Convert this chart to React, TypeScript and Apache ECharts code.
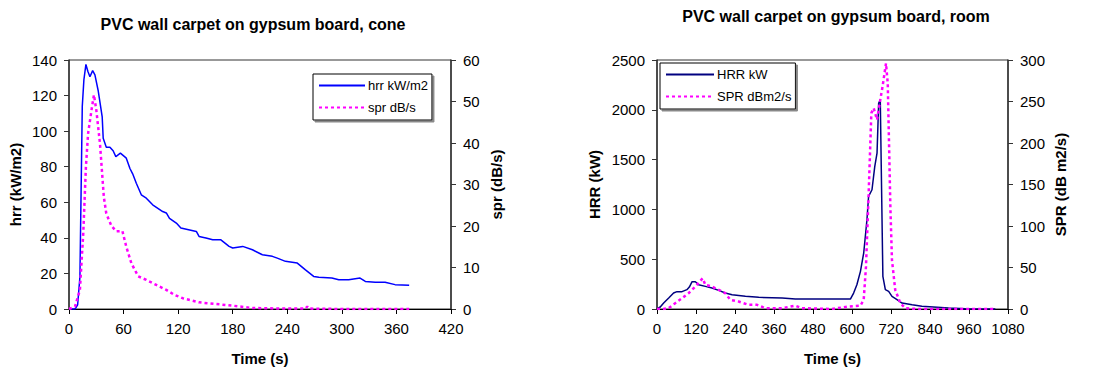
import React, { useEffect, useRef } from "react";
import * as echarts from "echarts";

// ---- Cone test (left) ----
const coneHrrTime = [0, 6.6, 9.5, 12, 14.6, 16.4, 18.6, 20.8, 23, 26, 28.5, 32, 36.5, 37.6, 41, 45, 48.5, 51.5, 56.5, 63, 67, 70, 74, 79.5, 85, 92, 103, 107, 110.5, 118, 123, 140, 143, 150.6, 158, 167, 176, 180, 191, 201.7, 212.6, 223.6, 229, 238, 251, 260, 269, 274.7, 289, 296.6, 307.5, 320, 325.8, 336.7, 347.5, 358.5, 374];
const coneHrr = [0, 0, 2.4, 18, 114, 129, 137.5, 133.5, 130.6, 134, 131.6, 123, 108, 96, 91, 91, 89, 85.7, 87.6, 84.8, 79, 76, 70.7, 64.2, 62.3, 58.6, 54.8, 54, 51, 48.3, 45.5, 43.6, 40.8, 39.9, 38.9, 38.9, 35.2, 34.3, 35.2, 33.3, 30.5, 29.6, 28.6, 26.8, 25.8, 22, 18.3, 17.8, 17.4, 16.5, 16.5, 17.4, 15.5, 15, 15, 13.7, 13.3];
const coneSprTime = [0, 6.6, 12, 15.7, 18.6, 21, 24.8, 27.4, 30, 34, 38.3, 41, 46.7, 52, 58.7, 63, 68.6, 76, 85, 96, 107, 116, 125, 143, 161.6, 180, 201.7, 234.5, 260, 262, 264, 300, 340, 374];
const coneSpr = [0, 0.6, 4.6, 18.3, 34.3, 42.3, 48, 51.6, 48, 40, 27, 23, 20, 18.7, 18.8, 15, 11, 7.9, 7, 5.8, 4.6, 3.4, 2.6, 1.6, 1.2, 0.8, 0.24, 0.1, 0.1, 0.6, 0.1, 0, 0, 0];

// ---- Room test (right) ----
const roomHrrTime = [0, 10, 20.5, 36, 51, 61.5, 77, 92, 99.5, 108, 118, 128, 149, 169, 190, 210, 231, 272, 313, 385, 425.6, 487, 538, 595, 605, 615, 626, 636, 646, 651, 661.5, 670, 677, 682, 687, 690, 695, 702.6, 712.8, 723, 738.5, 754, 785, 815, 897, 949, 1041];
const roomHrr = [0, 20, 60, 110, 160, 174, 174, 194, 220, 274, 274, 244, 227, 210, 187, 160, 144, 127, 117, 110, 100, 100, 100, 100, 160, 244, 378, 562, 896, 1130, 1197, 1430, 1564, 2065, 2100, 1430, 328, 194, 177, 127, 94, 60, 43, 27, 10, 3, 0];
const roomSprTime = [0, 20, 36, 56, 77, 97, 118, 140.5, 149, 169, 190, 210, 226, 251, 282, 308, 333, 385, 425.6, 446, 538, 590, 626, 636, 643, 651, 659.5, 666.7, 677, 687, 694, 704.6, 710, 715, 718, 723, 733, 749, 764, 800, 900, 1041];
const roomSpr = [0, 0, 1, 7, 13, 19, 27, 37, 29, 27, 23, 19, 11, 9, 5, 5, 1, 1, 4, 1, 0, 3, 4, 11, 51, 136, 236, 242, 228, 252, 268, 296, 272, 180, 124, 59, 23, 7, 1, 0, 0, 0];

const coneTicksX = { min: 0, max: 420, interval: 60 };
const coneTicksY = { min: 0, max: 140, interval: 20 };
const coneTicksY2 = { min: 0, max: 60, interval: 10 };
const roomTicksX = { min: 0, max: 1080, interval: 120 };
const roomTicksY = { min: 0, max: 2500, interval: 500 };
const roomTicksY2 = { min: 0, max: 300, interval: 50 };

const zip = (a: number[], b: number[]) => a.map((v, i) => [v, b[i]]);

const FONT = "Liberation Sans";
const axisColor = "#333";
const plain = (v: number) => String(v);

function makeX(gridIndex: number, t: any) {
  return {
    type: "value",
    gridIndex,
    ...t,
    name: "Time (s)",
    nameLocation: "middle",
    nameGap: 42,
    nameTextStyle: { fontFamily: FONT, fontSize: 15, fontWeight: "bold", color: "#000" },
    axisLine: { show: true, lineStyle: { color: "#000", width: 1 } },
    axisTick: { show: true, length: 5, lineStyle: { color: "#000" } },
    axisLabel: { fontFamily: FONT, fontSize: 15, color: "#000", margin: 12, formatter: plain },
    splitLine: { show: false },
  };
}

function makeY(gridIndex: number, t: any, name: string, position: string, gap: number) {
  return {
    type: "value",
    gridIndex,
    position,
    ...t,
    name,
    nameLocation: "middle",
    nameGap: gap,
    nameTextStyle: { fontFamily: FONT, fontSize: 15, fontWeight: "bold", color: "#000" },
    axisLine: { show: true, lineStyle: { color: axisColor, width: 1.5 } },
    axisTick: { show: true, length: 5, lineStyle: { color: axisColor } },
    axisLabel: { fontFamily: FONT, fontSize: 15, color: "#000", margin: 12, formatter: plain },
    splitLine: { show: false },
  };
}

const dotted = { color: "#ff00ff", width: 2.5, type: [3, 3] as any };

const legendBase = {
  orient: "vertical",
  padding: [5, 4, 6, 5],
  itemGap: 9,
  itemHeight: 14,
  borderColor: "#000",
  borderWidth: 1,
  backgroundColor: "#fff",
  shadowColor: "#888",
  shadowOffsetX: 2,
  shadowOffsetY: 2,
  shadowBlur: 0,
  itemStyle: { opacity: 0 },
  textStyle: { fontFamily: FONT, fontSize: 13, color: "#000", padding: [0, 0, 0, -2] },
};

export default function App() {
  const ref = useRef<HTMLDivElement>(null);
  useEffect(() => {
    if (!ref.current) return;
    const chart = echarts.init(ref.current, undefined, { renderer: "svg" });
    chart.setOption({
      animation: false,
      backgroundColor: "#fff",
      title: [
        {
          text: "PVC wall carpet on gypsum board, cone",
          left: 248,
          top: 11,
          textAlign: "center",
          textStyle: { fontFamily: FONT, fontSize: 16, fontWeight: "bold", color: "#000" },
        },
        {
          text: "PVC wall carpet on gypsum board, room",
          left: 831,
          top: 3,
          textAlign: "center",
          textStyle: { fontFamily: FONT, fontSize: 16, fontWeight: "bold", color: "#000" },
        },
      ],
      legend: [
        {
          ...legendBase,
          left: 313,
          top: 74,
          itemWidth: 46,
          data: ["hrr kW/m2", "spr dB/s"],
        },
        {
          ...legendBase,
          left: 660,
          top: 63,
          itemWidth: 48,
          data: ["HRR kW", "SPR dBm2/s"],
        },
      ],
      grid: [
        { left: 69, top: 60, width: 382, height: 249, show: true, borderColor: axisColor, borderWidth: 1, backgroundColor: "transparent" },
        { left: 657, top: 60, width: 351, height: 249, show: true, borderColor: axisColor, borderWidth: 1, backgroundColor: "transparent" },
      ],
      xAxis: [makeX(0, coneTicksX), makeX(1, roomTicksX)],
      yAxis: [
        makeY(0, coneTicksY, "hrr (kW/m2)", "left", 46),
        makeY(0, coneTicksY2, "spr (dB/s)", "right", 38),
        makeY(1, roomTicksY, "HRR (kW)", "left", 55),
        makeY(1, roomTicksY2, "SPR (dB m2/s)", "right", 45),
      ],
      series: [
        {
          name: "hrr kW/m2",
          type: "line",
          xAxisIndex: 0,
          yAxisIndex: 0,
          data: zip(coneHrrTime, coneHrr),
          showSymbol: false,
          symbol: "none",
          lineStyle: { color: "#0000ff", width: 1.5 },
          itemStyle: { color: "#0000ff" },
        },
        {
          name: "spr dB/s",
          type: "line",
          xAxisIndex: 0,
          yAxisIndex: 1,
          data: zip(coneSprTime, coneSpr),
          showSymbol: false,
          symbol: "none",
          lineStyle: dotted,
          itemStyle: { color: "#ff00ff" },
        },
        {
          name: "HRR kW",
          type: "line",
          xAxisIndex: 1,
          yAxisIndex: 2,
          data: zip(roomHrrTime, roomHrr),
          showSymbol: false,
          symbol: "none",
          lineStyle: { color: "#000080", width: 1.5 },
          itemStyle: { color: "#000080" },
        },
        {
          name: "SPR dBm2/s",
          type: "line",
          xAxisIndex: 1,
          yAxisIndex: 3,
          data: zip(roomSprTime, roomSpr),
          showSymbol: false,
          symbol: "none",
          lineStyle: dotted,
          itemStyle: { color: "#ff00ff" },
        },
      ],
    });
    return () => chart.dispose();
  }, []);
  return (
    <div
      ref={ref}
      style={{ position: "fixed", left: 0, top: 0, width: 1098, height: 376, background: "#fff" }}
    />
  );
}
